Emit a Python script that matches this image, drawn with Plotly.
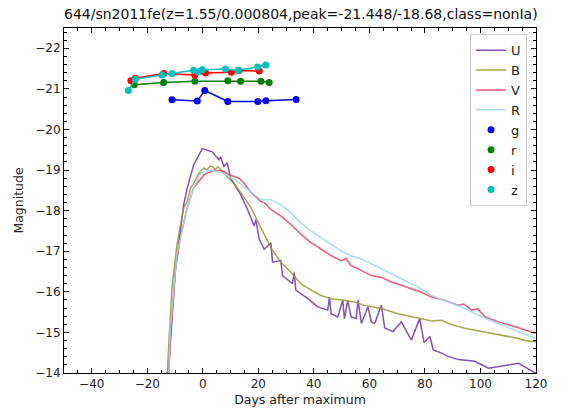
import plotly.graph_objects as go

# ---- spectral light curves (days after maximum, magnitude) ----
u_days = [-12.6, -9.9, -6.9, -5.6, -3.3, -0.2, 3.4, 5.8, 6.4, 7.6, 8.8, 10.0, 13.6, 16.1, 18.5, 19.1, 20.3, 22.1, 24.5, 25.1,
          28.1, 28.7, 32.3, 32.9, 33.5, 37.8, 41.4, 45.0, 45.6, 46.2, 48.6, 50.4, 51.0, 52.2, 53.4, 55.2, 55.9, 57.1, 59.5, 60.7,
          61.9, 64.3, 65.5, 68.5, 71.5, 75.1, 78.1, 79.7, 81.8, 83.0, 86.0, 88.4, 92.0, 98.0, 102.9, 113.7, 120.0]
u_mag = [-13.8, -16.52, -18.15, -18.56, -19.13, -19.53, -19.45, -19.25, -19.33, -19.09, -19.17, -18.80, -18.40, -18.03, -17.62, -17.78, -17.30, -17.05, -17.21, -16.73,
         -16.77, -16.40, -16.20, -16.48, -16.04, -15.83, -15.63, -15.55, -15.87, -15.46, -15.38, -15.79, -15.34, -15.79, -15.38, -15.34, -15.79, -15.22, -15.63, -15.26,
         -15.22, -15.67, -15.11, -15.02, -15.26, -14.81, -15.34, -14.75, -14.90, -14.57, -14.49, -14.41, -14.33, -14.29, -14.12, -14.24, -13.99]

b_days = [-12.9, -11.1, -9.3, -6.9, -5.5, -4.4, -3.0, -1.8, -0.8, 0.5, 1.5, 2.5, 3.4, 4.5, 5.5, 7.0, 8.2, 9.4, 10.6, 12.0,
          13.6, 15.0, 17.3, 20.9, 24.5, 28.1, 32.3, 35.3, 39.0, 42.6, 46.2, 51.0, 55.0, 58.2, 64.3, 70.3, 76.3, 82.4, 86.0, 88.4,
          94.4, 100.5, 106.5, 113.7, 116.0, 120.0]
b_mag = [-13.9, -16.12, -17.17, -18.07, -18.25, -18.56, -18.70, -18.88, -18.97, -19.05, -19.00, -19.10, -19.09, -19.02, -19.08, -18.97, -18.90, -18.80, -18.72, -18.60,
         -18.45, -18.30, -18.08, -17.58, -17.09, -16.73, -16.44, -16.20, -16.04, -15.91, -15.83, -15.79, -15.74, -15.67, -15.59, -15.46, -15.38, -15.28, -15.30, -15.22,
         -15.10, -15.02, -14.94, -14.85, -14.80, -14.77]

v_days = [-12.3, -11.7, -9.9, -8.1, -5.6, -3.3, 0.4, 4.0, 7.6, 9.0, 11.2, 13.0, 14.8, 17.3, 20.9, 22.5, 24.5, 28.1, 31.7, 35.3,
          39.0, 42.6, 44.5, 46.2, 49.8, 51.5, 53.4, 57.1, 60.7, 64.3, 67.9, 71.5, 75.1, 78.7, 82.4, 87.2, 92.0, 94.0, 96.9, 99.0,
          101.7, 106.5, 112.5, 119.8]
v_mag = [-13.9, -14.90, -16.52, -17.34, -18.07, -18.56, -18.88, -19.00, -18.97, -18.90, -18.84, -18.80, -18.68, -18.45, -18.23, -18.18, -18.03, -17.87, -17.66, -17.42,
         -17.21, -17.05, -16.98, -16.89, -16.77, -16.82, -16.65, -16.52, -16.40, -16.36, -16.24, -16.16, -16.07, -15.99, -15.87, -15.79, -15.67, -15.70, -15.55, -15.58,
         -15.38, -15.26, -15.14, -14.98]

r_days = [-12.3, -11.7, -9.3, -5.6, -3.3, -0.8, 2.8, 7.6, 12.4, 16.1, 20.9, 24.5, 28.1, 31.7, 35.3, 39.0, 42.6, 46.2, 49.8, 53.4,
          57.1, 60.7, 64.3, 67.9, 71.5, 75.1, 78.7, 82.4, 88.4, 94.4, 100.5, 106.5, 113.7, 119.8]
r_mag = [-13.9, -15.06, -16.93, -18.07, -18.56, -18.92, -19.00, -18.92, -18.72, -18.52, -18.27, -18.27, -18.15, -17.95, -17.70, -17.50, -17.34, -17.17, -17.01, -16.89,
         -16.81, -16.69, -16.56, -16.44, -16.32, -16.20, -16.07, -15.91, -15.75, -15.59, -15.38, -15.22, -15.02, -14.85]

# ---- photometric points ----
g_days = [-11.1, -2.0, 0.7, 9.0, 19.8, 22.7, 33.6]
g_mag = [-20.73, -20.70, -20.96, -20.69, -20.69, -20.71, -20.74]
rr_days = [-24.7, -14.1, -2.9, 9.0, 13.6, 20.9, 23.9]
rr_mag = [-21.10, -21.16, -21.19, -21.20, -21.19, -21.19, -21.16]
i_days = [-25.9, -24.3, -14.1, -2.9, 1.0, 10.3, 13.0, 20.3]
i_mag = [-21.20, -21.26, -21.38, -21.34, -21.39, -21.41, -21.45, -21.44]
z_days = [-26.8, -24.3, -14.7, -11.1, -3.3, -1.8, -0.2, 8.2, 12.7, 19.7, 22.7]
z_mag = [-20.96, -21.24, -21.34, -21.38, -21.46, -21.42, -21.47, -21.49, -21.46, -21.54, -21.59]

title_text = "644/sn2011fe(z=1.55/0.000804,peak=-21.448/-18.68,class=nonIa)"

fig = go.Figure()

curves = [("U", u_days, u_mag, "rgba(110,50,170,0.85)"),
          ("B", b_days, b_mag, "rgba(150,150,50,0.85)"),
          ("V", v_days, v_mag, "rgba(230,50,80,0.8)"),
          ("R", r_days, r_mag, "rgba(160,215,235,0.9)")]
for name, d, m, c in curves:
    fig.add_trace(go.Scatter(x=d, y=m, mode="lines", name=name,
                             line=dict(color=c, width=1.5)))

points = [("g", g_days, g_mag, "#0000ff"),
          ("r", rr_days, rr_mag, "#008000"),
          ("i", i_days, i_mag, "#ff0000"),
          ("z", z_days, z_mag, "#00bfbf")]
for name, d, m, c in points:
    fig.add_trace(go.Scatter(x=d, y=m, mode="lines", showlegend=False, hoverinfo="skip",
                             line=dict(color=c, width=1.5)))
    fig.add_trace(go.Scatter(x=d, y=m, mode="markers", name=name,
                             marker=dict(color=c, size=7),
                             error_y=dict(type="constant", value=0.02, color=c, thickness=1.5, width=0)))

axis_common = dict(showline=True, linecolor="black", linewidth=1, mirror="allticks",
                   ticks="inside", ticklen=5, tickcolor="black", showgrid=False, zeroline=False,
                   tickfont=dict(family="DejaVu Sans", size=12, color="#222"))

fig.update_xaxes(range=[-50, 120], dtick=20, tick0=0,
                 minor=dict(ticks="inside", ticklen=3, dtick=5, tickcolor="black", showgrid=False),
                 title=dict(text="Days after maximum", font=dict(family="DejaVu Sans", size=12.5, color="#222"), standoff=4),
                 **axis_common)
fig.update_yaxes(range=[-14, -22.5], dtick=1, tick0=0,
                 minor=dict(ticks="inside", ticklen=3, dtick=0.2, tickcolor="black", showgrid=False),
                 title=dict(text="Magnitude", font=dict(family="DejaVu Sans", size=12.5, color="#222"), standoff=8),
                 **axis_common)

fig.update_layout(
    width=573, height=416,
    margin=dict(l=64, r=37, t=28, b=38),
    paper_bgcolor="white", plot_bgcolor="white",
    font=dict(family="DejaVu Sans", color="#222"),
    title=dict(text=title_text, x=0.525, xanchor="center", y=1 - 14 / 416, yanchor="middle", yref="container",
               font=dict(family="DejaVu Sans", size=14, color="#111")),
    legend=dict(x=0.981, xanchor="right", y=0.982, yanchor="top",
                bgcolor="rgba(255,255,255,0.85)", bordercolor="#cccccc", borderwidth=1,
                font=dict(family="DejaVu Sans", size=13, color="#222"),
                itemwidth=30, tracegroupgap=0),
    showlegend=True,
)

fig.write_html("out.html")
